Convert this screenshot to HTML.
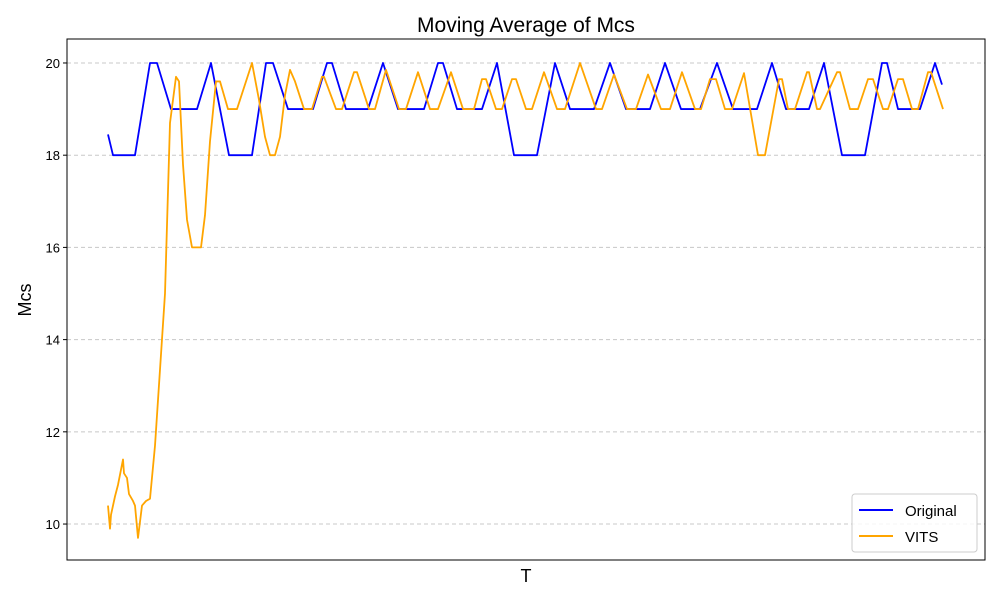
<!DOCTYPE html>
<html><head><meta charset="utf-8"><style>
body{margin:0;background:#fff;}
svg{display:block;font-family:"Liberation Sans","DejaVu Sans",sans-serif;}
</style></head><body>
<svg id="chart" width="1000" height="600">
<rect width="1000" height="600" fill="#fff"/>
<text x="526" y="32" font-size="21" text-anchor="middle">Moving Average of Mcs</text>
<text x="526" y="582" font-size="18" text-anchor="middle">T</text>
<text transform="translate(31,300) rotate(-90)" font-size="18" text-anchor="middle">Mcs</text>
<g id="grid"></g>
<g id="series"></g>
<rect x="67" y="39" width="918" height="521" fill="none" stroke="#000" stroke-width="1"/>
<g>
<rect x="852" y="494" width="125" height="58" rx="3" fill="#fff" fill-opacity="0.8" stroke="#ccc"/>
<line x1="859" y1="510" x2="893" y2="510" stroke="#0000ff" stroke-width="2"/>
<text x="905" y="516" font-size="15">Original</text>
<line x1="859" y1="536" x2="893" y2="536" stroke="#ffa500" stroke-width="2"/>
<text x="905" y="542" font-size="15">VITS</text>
</g>
</svg>
<script>
const yTicks=[10,12,14,16,18,20];
const origT=[0,5,27,42,49,63,89,103,121,144,158,165,180,205,219,224,238,260,275,290,316,330,335,349,374,389,406,429,447,462,486,502,518,542,557,573,592,609,625,649,664,678,701,716,734,757,774,779,790,812,827,834];
const origV=[18.45,18,18,20,20,19,19,20,18,18,20,20,19,19,20,20,19,19,20,19,19,20,20,19,19,20,18,18,20,19,19,20,19,19,20,19,19,20,19,19,20,19,19,20,18,18,20,20,19,19,20,19.53];
const vitsT=[0,2,3,7,10,15,16,19,21,25,27,30,34,38,42,47,57,62,68,71,75,79,84,93,97,102,108,112,120,129,144,151,157,162,167,172,177,182,187,196,204,214,216,228,234,246,249,261,267,278,291,298,310,322,330,343,355,366,374,378,388,394,404,408,418,424,436,449,457,472,488,494,506,519,528,540,553,562,574,587,593,602,608,617,624,636,650,657,671,674,680,687,699,701,709,712,729,732,742,750,760,765,775,780,790,795,804,810,820,823,835];
const vitsV=[10.4,9.9,10.2,10.6,10.85,11.4,11.1,11.0,10.65,10.5,10.4,9.7,10.4,10.5,10.55,11.7,15,18.7,19.7,19.6,17.8,16.6,16,16,16.7,18.3,19.6,19.6,19,19,20,19.2,18.4,18,18,18.4,19.3,19.85,19.6,19,19,19.7,19.7,19,19,19.8,19.8,19,19,19.85,19,19,19.8,19,19,19.8,19,19,19.65,19.65,19,19,19.65,19.65,19,19,19.8,19,19,20,19,19,19.75,19,19,19.75,19,19,19.8,19,19,19.65,19.65,19,19,19.78,18,18,19.65,19.65,19,19,19.8,19.8,19,19,19.8,19.8,19,19,19.65,19.65,19,19,19.65,19.65,19,19,19.8,19.8,19];
const X0=108,X1=942,tMax=834;
const yTop=39,yBot=560,vTop=20.52,vBot=9.22;
function xs(t){return X0+(t/tMax)*(X1-X0);}
function ys(v){return yBot-(v-vBot)/(vTop-vBot)*(yBot-yTop);}
const NS='http://www.w3.org/2000/svg';
const grid=document.getElementById('grid');
yTicks.forEach(v=>{
 const y=ys(v);
 const l=document.createElementNS(NS,'line');
 l.setAttribute('x1',67);l.setAttribute('x2',985);l.setAttribute('y1',y);l.setAttribute('y2',y);
 l.setAttribute('stroke','#c8c8c8');l.setAttribute('stroke-dasharray','4,3');l.setAttribute('stroke-width','1');
 
 
 grid.appendChild(l);
 const tk=document.createElementNS(NS,'line');
 tk.setAttribute('x1',63);tk.setAttribute('x2',67);tk.setAttribute('y1',y);tk.setAttribute('y2',y);tk.setAttribute('stroke','#000');
 
 
 grid.appendChild(tk);
 const t=document.createElementNS(NS,'text');
 t.setAttribute('x',60);t.setAttribute('y',y+5);t.setAttribute('font-size','13');t.setAttribute('text-anchor','end');
 t.textContent=v;
 
 
 grid.appendChild(t);
});
function drawLine(T,V,color,name){
 const n=Math.min(T.length,V.length);
 const pts=[];
 for(let i=0;i<n;i++)pts.push(xs(T[i])+','+ys(V[i]));
 const p=document.createElementNS(NS,'polyline');
 p.setAttribute('points',pts.join(' '));
 p.setAttribute('fill','none');p.setAttribute('stroke',color);p.setAttribute('stroke-width','1.8');
 p.setAttribute('stroke-linejoin','round');
 
 
 document.getElementById('series').appendChild(p);
}
drawLine(origT,origV,'#0000ff','original-line');
drawLine(vitsT,vitsV,'#ffa500','vits-line');
</script>
</body></html>
